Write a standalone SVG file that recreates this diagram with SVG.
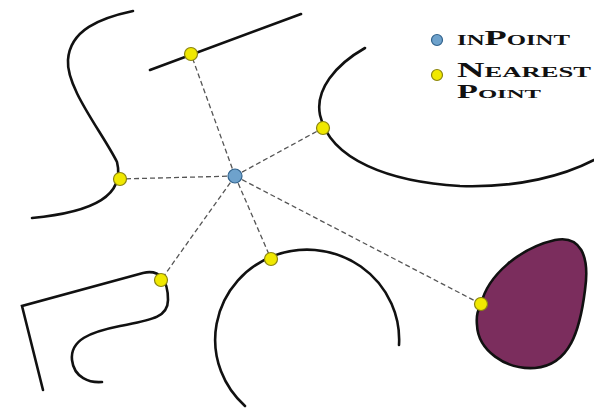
<svg xmlns="http://www.w3.org/2000/svg" width="594" height="411" viewBox="0 0 594 411">
<style>
.curve{fill:none;stroke:#111;stroke-width:2.6;stroke-linecap:round;stroke-linejoin:miter}
.dash{fill:none;stroke:#555;stroke-width:1.3;stroke-dasharray:5,3}
.yel{fill:#f0e800;stroke:#8a8410;stroke-width:1.2}
.blu{fill:#6ea2cc;stroke:#31628c;stroke-width:1.2}
.lbl{font-family:"Liberation Serif",serif;font-weight:bold;font-variant:small-caps;fill:#111}
</style>
<rect width="594" height="411" fill="#fff"/>
<g id="connectors">
<line class="dash" x1="235" y1="176" x2="191" y2="54"/>
<line class="dash" x1="235" y1="176" x2="323" y2="128"/>
<line class="dash" x1="235" y1="176" x2="120" y2="179"/>
<line class="dash" x1="235" y1="176" x2="161" y2="280"/>
<line class="dash" x1="235" y1="176" x2="271" y2="259"/>
<line class="dash" x1="235" y1="176" x2="481" y2="304"/>
</g>
<g id="s-curve"><path class="curve" d="M133,11 C100,18 70,30 68,60 C66,88 102,132 117,162 C125,195 95,212 32,218"/></g>
<g id="top-line"><path class="curve" d="M150,70 L301,14"/></g>
<g id="ellipse-arc"><path class="curve" d="M365,48 C335,65 315,90 320,115 C330,160 390,182 460,186 C520,188 565,175 594,160"/></g>
<g id="hook"><path class="curve" d="M43,390 L22,306 L143,273 C160,269 168,280 168,300 C168,318 150,320 120,326 C90,332 70,340 72,360 C74,378 90,383 102,382"/></g>
<g id="arc"><path class="curve" d="M245,406 A92,90 0 1 1 399,345"/></g>
<g id="egg"><path d="M481,304 C488,275 520,248 555,240 C580,235 590,255 585,290 C580,330 570,365 535,368 C505,370 478,350 477,325 C476,315 478,310 481,304 Z" fill="#7b2d5d" stroke="#111" stroke-width="2.6"/></g>
<g id="points">
<circle class="yel" cx="191" cy="54" r="6.5"/>
<circle class="yel" cx="323" cy="128" r="6.5"/>
<circle class="yel" cx="120" cy="179" r="6.5"/>
<circle class="yel" cx="161" cy="280" r="6.5"/>
<circle class="yel" cx="271" cy="259" r="6.5"/>
<circle class="yel" cx="481" cy="304" r="6.5"/>
<circle class="blu" cx="235" cy="176" r="7"/>
</g>
<g id="legend">
<circle class="blu" cx="437" cy="40" r="5.5"/>
<text class="lbl" x="457" y="45" font-size="22" textLength="113" lengthAdjust="spacingAndGlyphs">inPoint</text>
<circle class="yel" cx="437" cy="75" r="5.5"/>
<text class="lbl" x="457" y="77" font-size="20" textLength="134" lengthAdjust="spacingAndGlyphs">Nearest</text>
<text class="lbl" x="457" y="98" font-size="18" textLength="84" lengthAdjust="spacingAndGlyphs">Point</text>
</g>
</svg>
